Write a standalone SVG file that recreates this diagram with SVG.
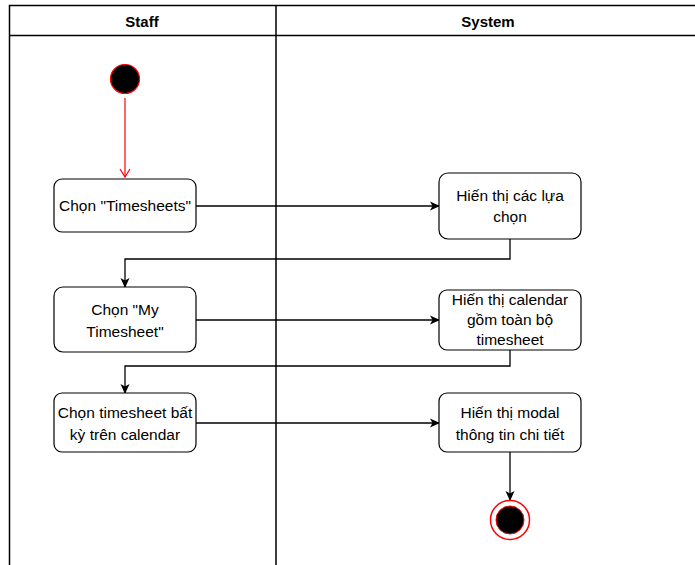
<svg xmlns="http://www.w3.org/2000/svg" width="695" height="565" viewBox="0 0 695 565">
<style>
.lane{fill:none;stroke:#000;stroke-width:1.5}
.box{fill:#fff;stroke:#000;stroke-width:1.2}
.t{font-family:"Liberation Sans",Arial,sans-serif;font-size:15.5px;fill:#000;text-anchor:middle}
.h{font-family:"Liberation Sans",Arial,sans-serif;font-size:15px;font-weight:bold;fill:#000;text-anchor:middle}
.c{fill:none;stroke:#000;stroke-width:1.3}
</style>
<defs>
<marker id="ab" markerWidth="10" markerHeight="10" refX="9" refY="5" orient="auto" markerUnits="userSpaceOnUse">
<path d="M0,0.5 L10,5 L0,9.5 L2.5,5 Z" fill="#000"/>
</marker>
<marker id="ar" markerWidth="12" markerHeight="12" refX="6" refY="11" orient="0" markerUnits="userSpaceOnUse">
<path d="M1,3 L6,11 L11,3" fill="none" stroke="#f00" stroke-width="1.2"/>
</marker>
</defs>
<rect width="695" height="565" fill="#fff"/>
<g id="swimlanes">
<path class="lane" d="M9.5,565 V5.5 H700 M9.5,35.5 H700 M276,5.5 V565"/>
<text class="h" x="142" y="27">Staff</text>
<text class="h" x="488" y="27">System</text>
</g>
<g id="connectors">
<path d="M125,98 V177" fill="none" stroke="#f00" stroke-width="1.2" marker-end="url(#ar)"/>
<path class="c" d="M196,206 H439" marker-end="url(#ab)"/>
<path class="c" d="M510,239 V259 H125 V287" marker-end="url(#ab)"/>
<path class="c" d="M196,320 H439" marker-end="url(#ab)"/>
<path class="c" d="M510,350 V366 H125 V393" marker-end="url(#ab)"/>
<path class="c" d="M196,423 H439" marker-end="url(#ab)"/>
<path class="c" d="M510,452 V500" marker-end="url(#ab)"/>
</g>
<g id="start">
<circle cx="125" cy="79" r="14.5" fill="#000" stroke="#f00" stroke-width="1.2"/>
</g>
<g id="n1">
<rect class="box" x="54" y="179" width="142" height="53" rx="8"/>
<text class="t" x="125" y="211">Chọn "Timesheets"</text>
</g>
<g id="n2">
<rect class="box" x="439" y="173" width="142" height="66" rx="9"/>
<text class="t" x="510" y="201">Hiến thị các lựa</text>
<text class="t" x="510" y="222">chọn</text>
</g>
<g id="n3">
<rect class="box" x="54" y="287" width="142" height="65" rx="9"/>
<text class="t" x="125" y="315">Chọn "My</text>
<text class="t" x="125" y="337">Timesheet"</text>
</g>
<g id="n4">
<rect class="box" x="439" y="290" width="142" height="60" rx="8"/>
<text class="t" x="510" y="305">Hiến thị calendar</text>
<text class="t" x="510" y="325">gồm toàn bộ</text>
<text class="t" x="510" y="345">timesheet</text>
</g>
<g id="n5">
<rect class="box" x="54" y="393" width="142" height="59" rx="8"/>
<text class="t" x="125" y="418">Chọn timesheet bất</text>
<text class="t" x="125" y="440">kỳ trên calendar</text>
</g>
<g id="n6">
<rect class="box" x="439" y="393" width="142" height="59" rx="8"/>
<text class="t" x="510" y="418">Hiến thị modal</text>
<text class="t" x="510" y="440">thông tin chi tiết</text>
</g>
<g id="end">
<circle cx="510" cy="520" r="19.5" fill="#fff" stroke="#f00" stroke-width="1.5"/>
<circle cx="510" cy="520" r="14" fill="#000" stroke="#f00" stroke-width="1"/>
</g>
</svg>
